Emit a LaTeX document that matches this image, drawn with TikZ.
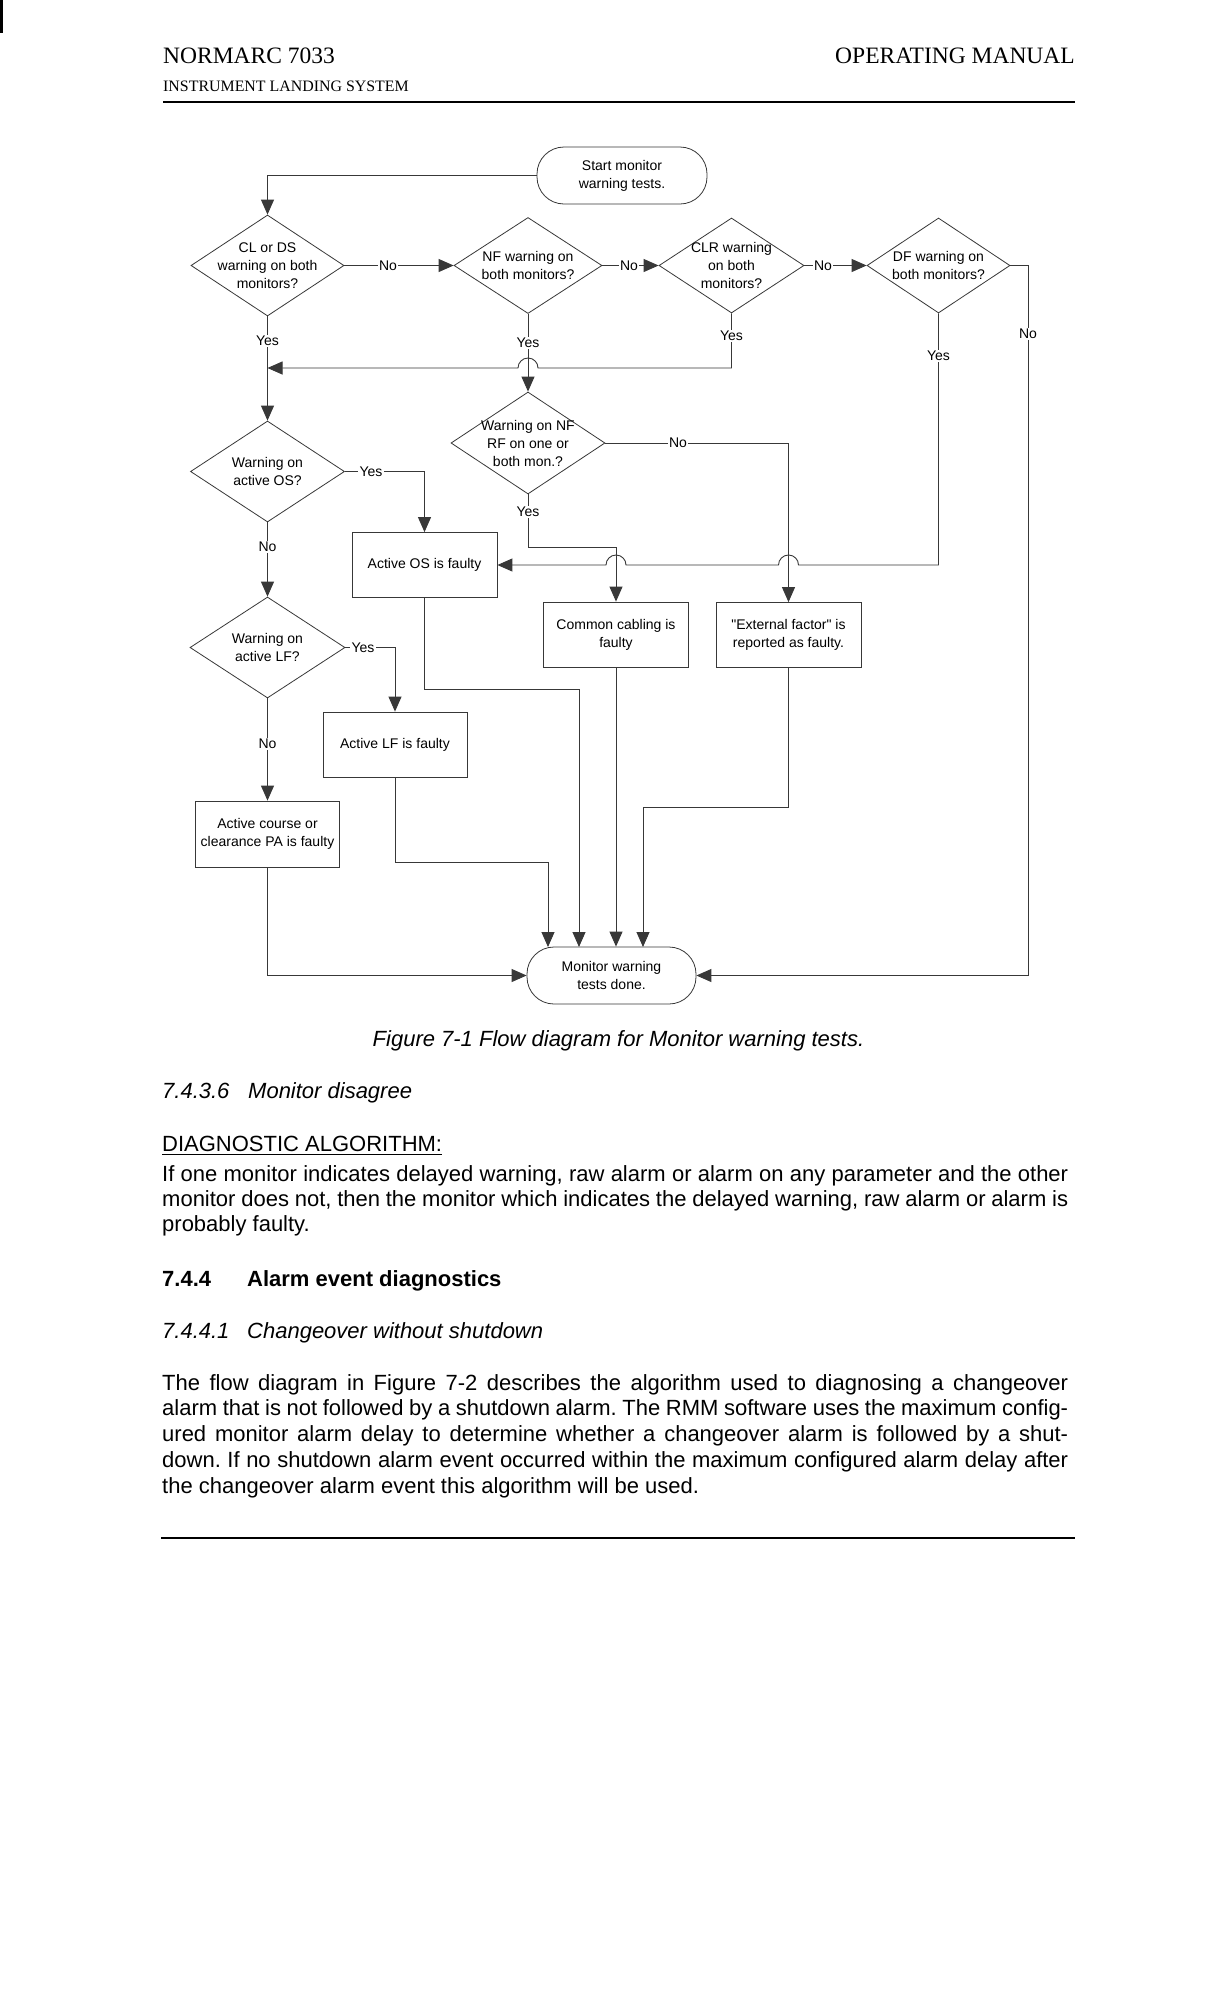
\documentclass[tikz,border=0pt]{standalone}
\usepackage{fontspec}
\setmainfont{Liberation Sans}
\newfontfamily\serifhdr{Liberation Serif}
\newfontfamily\flowfam{Liberation Sans}
\usetikzlibrary{shapes.geometric,arrows.meta,calc}
\newcommand\myflow{\flowfam\fontsize{14}{18}\selectfont}
\newcommand\mybody{\fontsize{22}{25.8}\selectfont}
\newcommand\justline[1]{\hbox to 906pt{#1}}
\frenchspacing
\begin{document}
\begin{tikzpicture}[x=1pt,y=-1pt,
  every node/.style={inner sep=0pt},
  ln/.style={draw=black!78,line width=0.9pt},
  arr/.style={ln,-{Triangle[length=15pt,width=13pt]}},
  dia/.style={diamond,draw=black!78,line width=0.8pt,inner sep=0pt},
  box/.style={rectangle,draw=black!78,line width=0.8pt,minimum width=145pt,minimum height=65pt,align=center,font=\myflow},
  term/.style={rectangle,rounded corners=27pt,draw=black!78,line width=0.8pt,minimum width=170pt,minimum height=57pt,align=center,font=\myflow},
  txt/.style={align=center,font=\myflow},
  lab/.style={font=\myflow,fill=white,inner sep=1.5pt},
  body/.style={anchor=base west,font=\mybody},
]
\fill[white] (0,0) rectangle (1224,2016);
\useasboundingbox (0,0) rectangle (1224,2016);
\fill (0,0) rectangle (3,33);

% header
\node[anchor=base west,font=\serifhdr\fontsize{23.5}{28}\selectfont] (h1) at (163,63) {NORMARC 7033};
\node[anchor=base east,font=\serifhdr\fontsize{23.5}{28}\selectfont] (h2) at (1075,63) {OPERATING MANUAL};
\node[anchor=base west,font=\serifhdr\fontsize{15.9}{19}\selectfont] (h3) at (163,91) {INSTRUMENT LANDING SYSTEM};
\draw[line width=1.6pt] (163,102) -- (1075,102);

% flowchart nodes
\node[term] (start) at (622,175.5) {Start monitor\\warning tests.};

\node[dia,minimum width=153pt,minimum height=101pt] (d1) at (267.5,265.5) {};
\node[txt] (d1t) at (d1) {CL or DS\\warning on both\\monitors?};
\node[dia,minimum width=148pt,minimum height=96pt] (d2) at (528,265.5) {};
\node[txt] (d2t) at (d2) {NF warning on\\both monitors?};
\node[dia,minimum width=145pt,minimum height=95pt] (d3) at (731.5,265.5) {};
\node[txt] (d3t) at (d3) {CLR warning\\on both\\monitors?};
\node[dia,minimum width=143pt,minimum height=95pt] (d4) at (938.5,265.5) {};
\node[txt] (d4t) at (d4) {DF warning on\\both monitors?};
\node[dia,minimum width=154pt,minimum height=101pt] (d5) at (267.5,471.5) {};
\node[txt] (d5t) at (d5) {Warning on\\active OS?};
\node[dia,minimum width=154pt,minimum height=102pt] (d6) at (528,443) {};
\node[txt] (d6t) at (d6) {Warning on NF\\RF on one or\\both mon.?};
\node[dia,minimum width=155pt,minimum height=101pt] (d7) at (267.5,647.5) {};
\node[txt] (d7t) at (d7) {Warning on\\active LF?};

\node[box] (os) at (424.5,565) {Active OS is faulty};
\node[box] (cc) at (616,634.5) {Common cabling is\\faulty};
\node[box] (ef) at (788.5,635) {"External factor" is\\reported as faulty.};
\node[box,minimum width=144pt] (lf) at (395,744.5) {Active LF is faulty};
\node[box,minimum width=144pt,minimum height=66pt] (pa) at (267.5,834) {Active course or\\clearance PA is faulty};
\node[term,minimum width=169pt] (endn) at (611.5,975.5) {Monitor warning\\tests done.};

\coordinate (j1) at (267.5,368);

% connectors
\draw[arr] (start.west) -| (d1.north);
\draw[arr] (d1.east) -- (d2.west);
\draw[arr] (d2.east) -- (d3.west);
\draw[arr] (d3.east) -- (d4.west);
\draw[arr] (d1.south) -- (d5.north);
\draw[arr] (d3.south) |- (538,368) arc[start angle=0,end angle=180,radius=10pt] -- (j1);
\draw[arr] (d2.south) -- (d6.north);
\draw[arr] (d5.east) -| (os.north);
\draw[arr] (d5.south) -- (d7.north);
\draw[arr] (d6.east) -| (ef.north);
\draw[arr] (d6.south) -- ++(0,53) -| (cc.north);
\draw[arr] (d4.south) |- (798.5,565) arc[start angle=0,end angle=180,radius=10pt]
           -- (626,565) arc[start angle=0,end angle=180,radius=10pt] -- (os.east);
\draw[arr] (d4.east) -- ++(18,0) |- (endn.east);
\draw[arr] (d7.east) -| (lf.north);
\draw[arr] (d7.south) -- (pa.north);
\draw[arr] (pa.south) |- (endn.west);
\draw[arr] (lf.south) |- (548,862) -- (548,947);
\draw[arr] (os.south) |- (579,689) -- (579,947);
\draw[arr] (cc.south) -- (cc.south |- endn.north);
\draw[arr] (ef.south) |- (643,807) -- (643,947);

% connector labels
\node[lab] (l1) at (388,265.5) {No};
\node[lab] (l2) at (629,265.5) {No};
\node[lab] (l3) at (823,265.5) {No};
\node[lab] (l4) at (1028,334) {No};
\node[lab] (l5) at (267.5,341) {Yes};
\node[lab] (l6) at (528,343) {Yes};
\node[lab] (l7) at (731.5,336) {Yes};
\node[lab] (l8) at (938.5,356) {Yes};
\node[lab] (l9) at (678,443) {No};
\node[lab] (l10) at (528,512) {Yes};
\node[lab] (l11) at (371,471.5) {Yes};
\node[lab] (l12) at (267.5,547) {No};
\node[lab] (l13) at (363,647.5) {Yes};
\node[lab] (l14) at (267.5,744) {No};

% text below
\node[anchor=base,font=\mybody\itshape] (cap) at (618.5,1046) {Figure 7-1 Flow diagram for Monitor warning tests.};
\node[body,font=\mybody\itshape] (s1n) at (162,1098) {7.4.3.6};
\node[body,font=\mybody\itshape] (s1t) at (248,1098) {Monitor disagree};
\node[body] (diag) at (162,1151) {DIAGNOSTIC ALGORITHM:};
\draw[line width=1.3pt] ($(diag.base west)+(0,3.5)$) -- ($(diag.base east)+(0,3.5)$);
\node[body] (p1a) at (162,1181) {\justline{If one monitor indicates delayed warning, raw alarm or alarm on any parameter and the other}};
\node[body] (p1b) at (162,1206) {\justline{monitor does not, then the monitor which indicates the delayed warning, raw alarm or alarm is}};
\node[body] (p1c) at (162,1231) {probably faulty.};

\node[body,font=\mybody\bfseries] (s2n) at (162,1286) {7.4.4};
\node[body,font=\mybody\bfseries] (s2t) at (247,1286) {Alarm event diagnostics};
\node[body,font=\mybody\itshape] (s3n) at (162,1338) {7.4.4.1};
\node[body,font=\mybody\itshape] (s3t) at (247,1338) {Changeover without shutdown};

\node[body] (p2a) at (162,1390) {\justline{The flow diagram in Figure 7-2 describes the algorithm used to diagnosing a changeover}};
\node[body] (p2b) at (162,1415.8) {\justline{alarm that is not followed by a shutdown alarm. The RMM software uses the maximum config-}};
\node[body] (p2c) at (162,1441.6) {\justline{ured monitor alarm delay to determine whether a changeover alarm is followed by a shut-}};
\node[body] (p2d) at (162,1467.4) {\justline{down. If no shutdown alarm event occurred within the maximum configured alarm delay after}};
\node[body] (p2e) at (162,1493.2) {the changeover alarm event this algorithm will be used.};

\draw[line width=1.5pt] (161,1538) -- (1075,1538);
\end{tikzpicture}
\end{document}
